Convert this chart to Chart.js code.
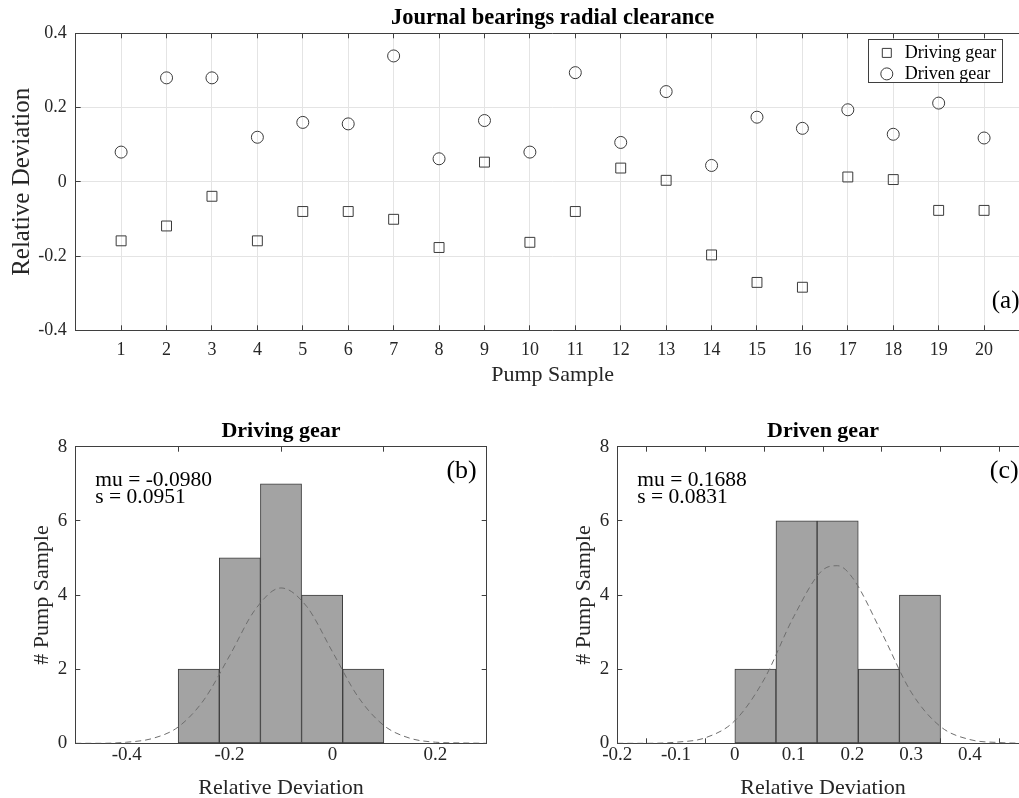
<!DOCTYPE html>
<html>
<head>
<meta charset="utf-8">
<script src="https://cdn.jsdelivr.net/npm/chart.js@4.4.1/dist/chart.umd.min.js"></script>
<style>
html,body{margin:0;padding:0;background:#fff;overflow:hidden;width:1019px;height:798px;}
canvas{position:absolute;}
#topChart{left:0;top:0;}
#drivingHist{left:0;top:400px;}
#drivenHist{left:542px;top:400px;}
</style>
</head>
<body>
<canvas id="topChart" width="1040" height="390"></canvas>
<canvas id="drivingHist" width="500" height="402"></canvas>
<canvas id="drivenHist" width="500" height="402"></canvas>
<script>
/* DATA */

const samples = [1,2,3,4,5,6,7,8,9,10,11,12,13,14,15,16,17,18,19,20];

const drivingDev = [-0.159,-0.119,-0.039,-0.159,-0.080,-0.080,-0.101,-0.177,0.053,-0.163,
                    -0.080,0.037,0.004,-0.197,-0.271,-0.284,0.013,0.006,-0.077,-0.077];

const drivenDev = [0.080,0.280,0.280,0.120,0.160,0.156,0.339,0.062,0.165,0.080,
                   0.294,0.106,0.243,0.044,0.174,0.144,0.194,0.128,0.212,0.118];

const devTicks = [-0.4,-0.2,0,0.2,0.4];

/* histograms */
const drivingEdges = [-0.30,-0.22,-0.14,-0.06,0.02,0.10];
const drivingCounts = [2,5,7,4,2];
const drivenEdges = [0,0.07,0.14,0.21,0.28,0.35];
const drivenCounts = [2,6,6,2,4];

/* fitted normal curves */
const drivingFitX = [-0.50,-0.45,-0.40,-0.35,-0.30,-0.25,-0.20,-0.15,-0.10,-0.05,0.00,0.05,0.10,0.15,0.20,0.25,0.30];
const drivingFitY = [0.00,0.00,0.03,0.13,0.44,1.17,2.36,3.61,4.19,3.69,2.47,1.25,0.48,0.14,0.03,0.01,0.00];
const drivenFitX = [-0.20,-0.15,-0.10,-0.05,0.00,0.05,0.10,0.15,0.175,0.20,0.25,0.30,0.35,0.40,0.45,0.50];
const drivenFitY = [0.00,0.00,0.03,0.15,0.61,1.73,3.41,4.68,4.79,4.47,2.98,1.38,0.45,0.10,0.02,0.00];

const drivingTicksX = [-0.4,-0.2,0,0.2];
const drivenTicksX = [-0.2,-0.1,0,0.1,0.2,0.3,0.4];
const countTicks = [0,2,4,6,8];

const drivingStats = ["mu = -0.0980","s = 0.0951"];
const drivenStats = ["mu = 0.1688","s = 0.0831"];

/* STYLE */

const FONT = "'Liberation Serif','Times New Roman',serif";
const AXIS = "#3f3f3f";
const GRID = "#e4e4e4";
const TEXT = "#262626";
const MARK = "#3a3a3a";

const fmt = v => String(Math.round(v*10)/10);
const setTicks = arr => (s => { s.ticks = arr.map(v => ({value:v})); });

/* text + legend drawn on top of the chart */

function overlay(texts, legend){
  return {
    id:"overlay",
    afterDraw(chart){
      const {ctx, chartArea:a} = chart;
      ctx.save();
      ctx.textBaseline = "middle";
      texts.forEach(t => {
        ctx.font = t.size + "px " + FONT;
        ctx.fillStyle = "#000";
        ctx.textAlign = t.align;
        const x = t.align === "right" ? a.right - t.dx : a.left + t.dx;
        ctx.fillText(t.text, x, a.top + t.dy);
      });
      if(legend){
        const x0 = Math.round(a.right - legend.fromRight) + 0.5;
        const y0 = Math.round(a.top + legend.fromTop) + 0.5;
        ctx.fillStyle = "#fff";
        ctx.fillRect(x0, y0, legend.w, legend.h);
        ctx.strokeStyle = AXIS;
        ctx.lineWidth = 1;
        ctx.strokeRect(x0, y0, legend.w, legend.h);
        chart.data.datasets.forEach((ds,i) => {
          const cy = y0 + legend.row0 + i*legend.gap;
          const mx = x0 + legend.markX;
          ctx.strokeStyle = MARK;
          ctx.beginPath();
          if(ds.pointStyle === "rect") ctx.rect(mx-4.5, cy-4.5, 9, 9);
          else ctx.arc(mx, cy, 6, 0, Math.PI*2);
          ctx.stroke();
          ctx.fillStyle = "#000";
          ctx.textAlign = "left";
          ctx.font = "18px " + FONT;
          ctx.fillText(ds.label, x0 + legend.textX, cy);
        });
      }
      ctx.restore();
    }
  };
}

/* TOP SCATTER */

new Chart(document.getElementById("topChart"), {
  type:"scatter",
  data:{
    datasets:[
      {
        label:"Driving gear",
        data:samples.map((s,i) => ({x:s, y:drivingDev[i]})),
        pointStyle:"rect",
        pointRadius:7,
        pointHoverRadius:7,
        pointBorderWidth:1,
        pointBorderColor:MARK,
        pointBackgroundColor:"rgba(0,0,0,0)"
      },
      {
        label:"Driven gear",
        data:samples.map((s,i) => ({x:s, y:drivenDev[i]})),
        pointStyle:"circle",
        pointRadius:6,
        pointHoverRadius:6,
        pointBorderWidth:1,
        pointBorderColor:MARK,
        pointBackgroundColor:"rgba(0,0,0,0)"
      }
    ]
  },
  options:{
    responsive:false,
    animation:false,
    devicePixelRatio:1,
    layout:{padding:0},
    plugins:{legend:{display:false}, tooltip:{enabled:false}},
    scales:{
      x:{
        type:"linear", position:"bottom", min:0, max:21,
        afterBuildTicks:setTicks(samples),
        afterFit:s => { s.height = 59.7; },
        ticks:{font:{family:FONT,size:18}, color:TEXT, padding:14, maxRotation:0, autoSkip:false},
        grid:{color:GRID, tickColor:AXIS, tickLength:-5},
        border:{color:AXIS},
        title:{display:true, text:"Pump Sample", color:TEXT, font:{family:FONT,size:22}, padding:{top:0,bottom:1.8}}
      },
      x2:{
        type:"linear", position:"top", min:0, max:21,
        afterBuildTicks:setTicks(samples),
        afterFit:s => { s.height = 33.3; },
        ticks:{display:false},
        grid:{drawOnChartArea:false, tickColor:AXIS, tickLength:-5},
        border:{color:AXIS},
        title:{display:true, text:"Journal bearings radial clearance", color:"#000",
               font:{family:FONT,size:22.5,weight:"bold"}, padding:{top:5.1,bottom:0}}
      },
      y:{
        type:"linear", position:"left", min:-0.4, max:0.4,
        afterBuildTicks:setTicks(devTicks),
        afterFit:s => { s.width = 75.7; },
        ticks:{font:{family:FONT,size:18}, color:TEXT, padding:14, callback:fmt},
        grid:{color:GRID, tickColor:AXIS, tickLength:-5},
        border:{color:AXIS},
        title:{display:true, text:"Relative Deviation", color:TEXT, font:{family:FONT,size:25}, padding:{top:7.5,bottom:0}}
      },
      y2:{
        type:"linear", position:"right", min:-0.4, max:0.4,
        afterBuildTicks:setTicks(devTicks),
        afterFit:s => { s.width = 10.5; },
        ticks:{display:false},
        grid:{drawOnChartArea:false, tickColor:AXIS, tickLength:-5},
        border:{color:AXIS}
      }
    }
  },
  plugins:[overlay(
    [{text:"(a)", size:25, align:"right", dx:10, dy:268.4}],
    {fromRight:161.8, fromTop:6, w:134, h:43, markX:18.3, textX:36.3, row0:13.4, gap:21}
  )]
});

/* HISTOGRAMS */

function histogram(id, title, edges, counts, fitX, fitY, xMin, xMax, xTicks, stats, tag){
  const bars = counts.map((c,i) => ({x:(edges[i]+edges[i+1])/2, y:c}));
  const fit = fitX.map((x,i) => ({x:x, y:fitY[i]}));
  return new Chart(document.getElementById(id), {
    type:"bar",
    data:{
      datasets:[
        {
          type:"line",
          data:fit,
          borderColor:"#6e6e6e",
          borderWidth:1,
          borderDash:[6,4],
          pointRadius:0,
          cubicInterpolationMode:"monotone",
          fill:false,
          order:0
        },
        {
          type:"bar",
          data:bars,
          backgroundColor:"#a3a3a3",
          borderColor:"#3d3d3d",
          borderWidth:1,
          borderSkipped:false,
          barPercentage:1,
          categoryPercentage:1,
          order:1
        }
      ]
    },
    options:{
      responsive:false,
      animation:false,
      devicePixelRatio:1,
      layout:{padding:0},
      plugins:{legend:{display:false}, tooltip:{enabled:false}},
      scales:{
        x:{
          type:"linear", position:"bottom", min:xMin, max:xMax, offset:false,
          afterBuildTicks:setTicks(xTicks),
          afterFit:s => { s.height = 58.7; },
          ticks:{font:{family:FONT,size:19}, color:TEXT, padding:5.5, maxRotation:0, autoSkip:false, callback:fmt},
          grid:{drawOnChartArea:false, tickColor:AXIS, tickLength:-5},
          border:{color:AXIS},
          title:{display:true, text:"Relative Deviation", color:TEXT, font:{family:FONT,size:22}, padding:{top:0,bottom:0.8}}
        },
        x2:{
          type:"linear", position:"top", min:xMin, max:xMax, offset:false,
          afterBuildTicks:setTicks(xTicks),
          afterFit:s => { s.height = 46.7; },
          ticks:{display:false},
          grid:{drawOnChartArea:false, tickColor:AXIS, tickLength:-5},
          border:{color:AXIS},
          title:{display:true, text:title, color:"#000", font:{family:FONT,size:22,weight:"bold"}, padding:{top:18.5,bottom:0}}
        },
        y:{
          type:"linear", position:"left", min:0, max:8,
          afterBuildTicks:setTicks(countTicks),
          afterFit:s => { s.width = 75.3; },
          ticks:{font:{family:FONT,size:19}, color:TEXT, padding:13},
          grid:{drawOnChartArea:false, tickColor:AXIS, tickLength:-5},
          border:{color:AXIS},
          title:{display:true, text:"# Pump Sample", color:TEXT, font:{family:FONT,size:22}, padding:{top:29,bottom:0}}
        },
        y2:{
          type:"linear", position:"right", min:0, max:8,
          afterBuildTicks:setTicks(countTicks),
          afterFit:s => { s.width = 13.3; },
          ticks:{display:false},
          grid:{drawOnChartArea:false, tickColor:AXIS, tickLength:-5},
          border:{color:AXIS}
        }
      }
    },
    plugins:[overlay([
      {text:stats[0], size:21.5, align:"left", dx:20, dy:33.3},
      {text:stats[1], size:21.5, align:"left", dx:20, dy:50.6},
      {text:tag, size:26, align:"right", dx:10, dy:24.5}
    ], null)]
  });
}

histogram("drivingHist", "Driving gear", drivingEdges, drivingCounts, drivingFitX, drivingFitY,
          -0.5, 0.3, drivingTicksX, drivingStats, "(b)");

histogram("drivenHist", "Driven gear", drivenEdges, drivenCounts, drivenFitX, drivenFitY,
          -0.2, 0.5, drivenTicksX, drivenStats, "(c)");
</script>
</body>
</html>
